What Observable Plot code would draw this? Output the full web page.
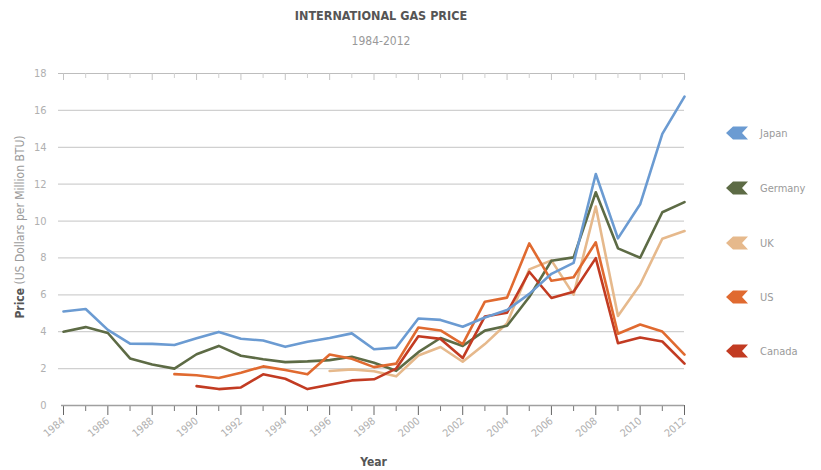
<!DOCTYPE html>
<html>
<head>
<meta charset="utf-8">
<script src="https://cdn.jsdelivr.net/npm/d3@7"></script>
<script src="https://cdn.jsdelivr.net/npm/@observablehq/plot@0.6"></script>
<style>
  html, body { margin: 0; padding: 0; background: #fff; }
  #wrap { position: relative; width: 821px; height: 470px; font-family: "DejaVu Sans Condensed", "DejaVu Sans", sans-serif; font-stretch: condensed; }
  #title { position: absolute; left: 0; width: 762px; top: 8px; text-align: center; font-weight: bold; font-size: 12.5px; color: #555; }
  #subtitle { position: absolute; left: 0; width: 762px; top: 34px; text-align: center; font-size: 12px; color: #999; }
  #chart { position: absolute; left: 0; top: 55px; }
  #legend { position: absolute; left: 726px; top: 0; }
  .item { position: absolute; left: 0; display: flex; align-items: center; white-space: nowrap; font-size: 11px; color: #9a9a9a; }
  .item svg { margin-right: 12px; }
</style>
</head>
<body>
<div id="wrap">
  <div id="title">INTERNATIONAL GAS PRICE</div>
  <div id="subtitle">1984-2012</div>
  <div id="chart"></div>
  <div id="legend"></div>
</div>
<script>
// ---- data ----
const years = d3.range(1984, 2013);
const countries = ["Japan", "Germany", "UK", "US", "Canada"];
const colors = ["#6b9bd2", "#5d6b45", "#e6b98c", "#e06a30", "#c23b22"];
const japan = [5.10, 5.23, 4.10, 3.35, 3.34, 3.28, 3.64, 3.99, 3.62, 3.52, 3.18, 3.46, 3.66, 3.91, 3.05, 3.14, 4.72, 4.64, 4.27, 4.77, 5.18, 6.05, 7.14, 7.73, 12.55, 9.06, 10.91, 14.73, 16.75];
const germany = [4.00, 4.25, 3.93, 2.55, 2.22, 2.00, 2.78, 3.23, 2.70, 2.51, 2.35, 2.39, 2.46, 2.64, 2.32, 1.88, 2.89, 3.66, 3.23, 4.06, 4.32, 5.88, 7.85, 8.03, 11.56, 8.52, 8.01, 10.48, 11.03];
const uk = [null, null, null, null, null, null, null, null, null, null, null, null, 1.87, 1.96, 1.86, 1.58, 2.71, 3.17, 2.37, 3.33, 4.46, 7.38, 7.87, 6.01, 10.79, 4.85, 6.56, 9.04, 9.46];
const us = [null, null, null, null, null, 1.70, 1.64, 1.49, 1.77, 2.12, 1.92, 1.69, 2.76, 2.53, 2.08, 2.27, 4.23, 4.07, 3.33, 5.63, 5.85, 8.79, 6.76, 6.95, 8.85, 3.89, 4.39, 4.01, 2.76];
const canada = [null, null, null, null, null, null, 1.05, 0.89, 0.98, 1.69, 1.45, 0.89, 1.12, 1.36, 1.42, 2.00, 3.75, 3.61, 2.57, 4.83, 5.03, 7.25, 5.83, 6.17, 7.99, 3.38, 3.69, 3.47, 2.27];
const yTicks = [0, 2, 4, 6, 8, 10, 12, 14, 16, 18];
const xLabelYears = [1984, 1986, 1988, 1990, 1992, 1994, 1996, 1998, 2000, 2002, 2004, 2006, 2008, 2010, 2012];
const xMinorYears = [1985, 1987, 1989, 1991, 1993, 1995, 1997, 1999, 2001, 2003, 2005, 2007, 2009, 2011];

// draw order (last on top)
const seriesByName = {Japan: japan, Germany: germany, UK: uk, US: us, Canada: canada};
const drawOrder = ["UK", "Germany", "Canada", "US", "Japan"];
const rows = [];
for (const name of drawOrder) {
  seriesByName[name].forEach((v, i) => { if (v != null) rows.push({country: name, year: years[i], price: v}); });
}

const font = '"DejaVu Sans Condensed", "DejaVu Sans", sans-serif';
const plotH = 415, mTop = 18, mBottom = 65;
const innerH = plotH - mTop - mBottom;
const plot = Plot.plot({
  width: 821,
  height: plotH,
  marginLeft: 63,
  marginRight: 137,
  marginTop: mTop,
  marginBottom: mBottom,
  style: {fontFamily: font, fontSize: "10px", color: "#b0b0b0", background: "transparent", fontStretch: "condensed"},
  x: {domain: [1984, 2012]},
  y: {domain: [0, 18]},
  color: {domain: countries, range: colors},
  marks: [
    Plot.ruleY(yTicks.filter(d => d > 0 && d < 18), {stroke: "#d0d0d0", strokeWidth: 1.2, insetLeft: -5}),
    Plot.ruleY([18], {stroke: "#bdbdbd", strokeWidth: 1.2, insetLeft: -5}),
    Plot.axisY({ticks: yTicks, tickSize: 0, tickPadding: 17, label: null, fill: "#b0b0b0", fontSize: 11}),
    // small ticks hanging from the top frame line
    Plot.ruleX(xLabelYears, {stroke: "#c4c4c4", insetBottom: innerH - 7}),
    Plot.ruleX(xMinorYears, {stroke: "#cfcfcf", insetBottom: innerH - 5}),
    Plot.axisX({ticks: xLabelYears, tickSize: 10, tickPadding: 4, tickRotate: -40, tickFormat: d => String(d), label: null, stroke: "#666", fill: "#b0b0b0", fontSize: 10.5}),
    Plot.axisX({ticks: xMinorYears, tickSize: 6, tickFormat: () => "", label: null, stroke: "#777"}),
    Plot.ruleY([0], {stroke: "#a0a0a0", strokeWidth: 1.5, insetLeft: -2}),
    Plot.line(rows, {x: "year", y: "price", z: "country", stroke: "country", strokeWidth: 2.6, strokeLinejoin: "round", strokeLinecap: "round"})
  ]
});
document.getElementById("chart").appendChild(plot);

// axis titles as real text
const svg = d3.select(plot);
const yl = svg.append("text")
  .attr("transform", "translate(24,172) rotate(-90)")
  .attr("text-anchor", "middle")
  .attr("font-family", font)
  .attr("font-stretch", "condensed")
  .attr("font-size", "12px")
  .attr("fill", "#9a9a9a");
yl.append("tspan").attr("font-weight", "bold").attr("fill", "#555").text("Price");
yl.append("tspan").text(" (US Dollars per Million BTU)");
svg.append("text")
  .attr("x", 373.5).attr("y", 411)
  .attr("text-anchor", "middle")
  .attr("font-family", font)
  .attr("font-stretch", "condensed")
  .attr("font-size", "12px")
  .attr("font-weight", "bold")
  .attr("fill", "#555")
  .text("Year");

// legend
const legendY = [133, 188, 243, 297, 351];
const legend = document.getElementById("legend");
countries.forEach((name, i) => {
  const div = document.createElement("div");
  div.className = "item";
  div.style.top = (legendY[i] - 7) + "px";
  div.innerHTML = `<svg width="22" height="14" viewBox="0 0 22 14"><polygon points="0,7 7,0.5 22,0.5 16,7 22,13.5 7,13.5" fill="${colors[i]}"/></svg><span>${name}</span>`;
  legend.appendChild(div);
});
</script>
</body>
</html>
